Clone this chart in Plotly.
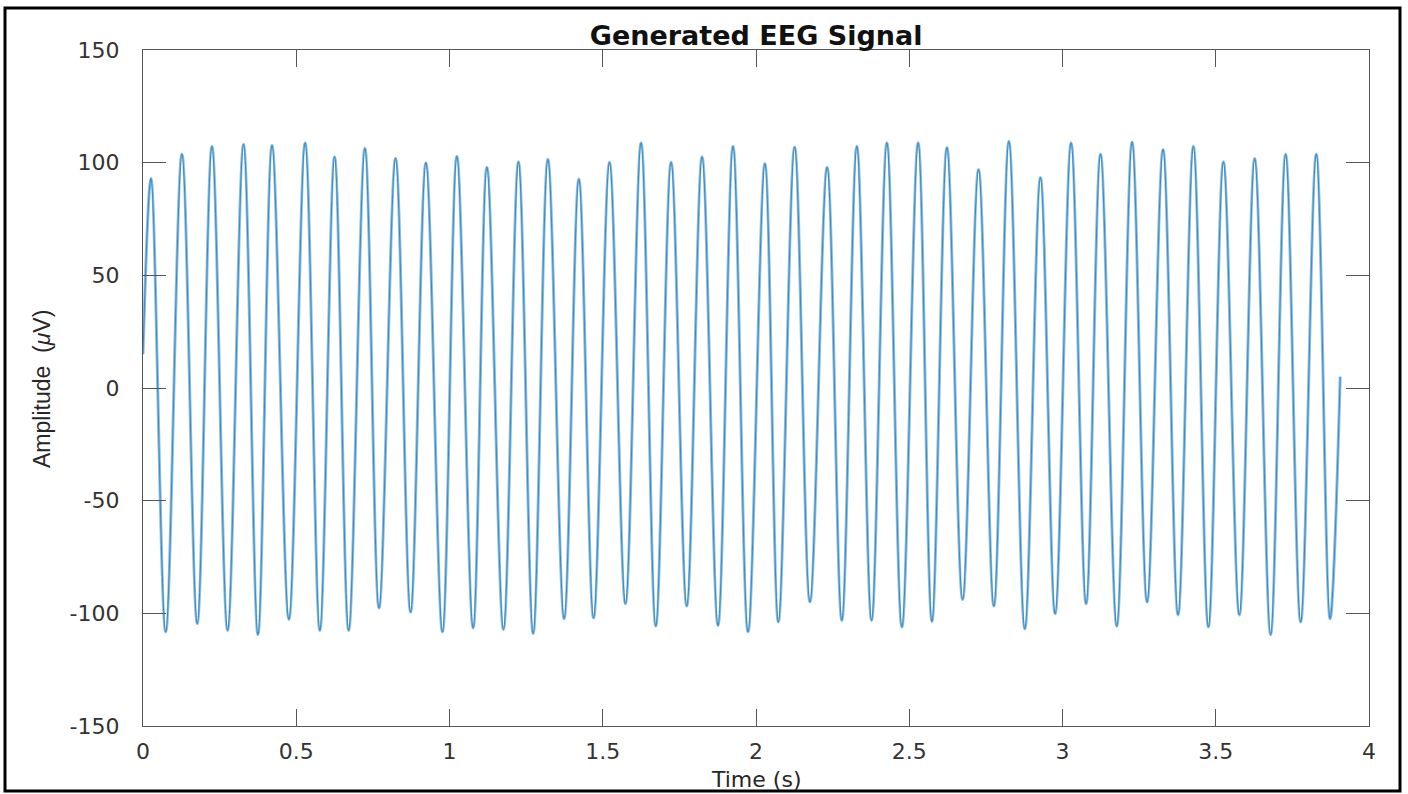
import plotly.graph_objects as go

# ---- data (time in s, amplitude in µV) ----
start_time = 0.0
start_value = 15.0
end_time = 3.906
end_value = 5.0

peak_times = [0.026, 0.127, 0.225, 0.328, 0.421, 0.529, 0.625, 0.724, 0.824, 0.923,
              1.024, 1.122, 1.225, 1.321, 1.422, 1.522, 1.625, 1.723, 1.824, 1.925,
              2.029, 2.126, 2.232, 2.329, 2.427, 2.529, 2.623, 2.726, 2.825, 2.928,
              3.028, 3.124, 3.227, 3.328, 3.427, 3.525, 3.627, 3.728, 3.828]
peak_values = [93.0, 103.8, 107.3, 108.2, 107.7, 108.8, 102.6, 106.4, 102.0, 100.0,
               102.9, 98.0, 100.4, 101.5, 92.7, 100.2, 108.8, 100.2, 102.6, 107.3,
               99.6, 107.0, 98.0, 107.3, 108.8, 108.8, 106.7, 97.0, 109.5, 93.4,
               108.8, 103.8, 109.2, 105.8, 107.3, 100.4, 101.9, 103.8, 103.8]

trough_times = [0.074, 0.177, 0.276, 0.375, 0.476, 0.577, 0.671, 0.770, 0.873, 0.977,
                1.077, 1.176, 1.273, 1.374, 1.470, 1.574, 1.673, 1.774, 1.876, 1.974,
                2.073, 2.176, 2.280, 2.377, 2.476, 2.574, 2.674, 2.776, 2.877, 2.976,
                3.077, 3.177, 3.276, 3.377, 3.476, 3.577, 3.679, 3.777, 3.873]
trough_values = [-108.3, -104.6, -107.6, -109.5, -102.7, -107.6, -107.6, -97.7, -99.5, -108.3,
                 -106.5, -107.2, -109.0, -102.4, -102.1, -95.8, -105.7, -96.8, -105.4, -108.3,
                 -103.9, -95.0, -103.2, -103.2, -106.1, -103.6, -93.9, -96.8, -106.9, -100.2,
                 -95.8, -105.7, -95.0, -100.7, -106.1, -100.7, -109.5, -103.9, -102.4]

x_ticks = [0, 0.5, 1, 1.5, 2, 2.5, 3, 3.5, 4]
y_ticks = [-150, -100, -50, 0, 50, 100, 150]

# ---- assemble the trace from the read extrema ----
pts = [(start_time, start_value)]
pts += list(zip(peak_times, peak_values))
pts += list(zip(trough_times, trough_values))
pts.append((end_time, end_value))
pts.sort(key=lambda p: p[0])
t = [p[0] for p in pts]
v = [p[1] for p in pts]

fig = go.Figure()
fig.add_trace(go.Scatter(x=t, y=v, mode="lines",
                         line=dict(color="#8cc0e2", width=3.0, shape="spline", smoothing=1),
                         hoverinfo="skip", showlegend=False))
fig.add_trace(go.Scatter(x=t, y=v, mode="lines",
                         line=dict(color="#3c88bd", width=1.0, shape="spline", smoothing=1),
                         showlegend=False))

axis_font = dict(family="DejaVu Sans", size=22, color="#333333")

W, H = 1408, 794
top, bottom = 50, 726
left, right = 143, 1369
pw, ph = right - left, bottom - top

fig.update_layout(
    width=W, height=H,
    margin=dict(l=left, r=W - right, t=top, b=H - bottom, autoexpand=False),
    paper_bgcolor="white", plot_bgcolor="white",
    title=dict(text="<b>Generated EEG Signal</b>", x=0.537, xanchor="center",
               y=1 - 36 / H, yanchor="middle", yref="container",
               font=dict(family="DejaVu Sans", size=27, color="#111111")),
    showlegend=False,
)
fig.update_xaxes(range=[0, 4], tickvals=x_ticks, ticktext=[f"{x:g}" for x in x_ticks],
                 automargin=False,
                 showgrid=False, zeroline=False, showline=True, linecolor="#555555",
                 linewidth=1.2, mirror="ticks", ticks="inside", ticklen=17, tickwidth=1.2,
                 tickcolor="#555555", tickfont=axis_font, ticklabelstandoff=5)
fig.update_yaxes(range=[-150, 150], tickvals=y_ticks, ticktext=[str(y) for y in y_ticks],
                 automargin=False,
                 showgrid=False, zeroline=False, showline=True, linecolor="#555555",
                 linewidth=1.2, mirror="ticks", ticks="inside", ticklen=23, tickwidth=1.2,
                 tickcolor="#555555", tickfont=axis_font, ticklabelstandoff=18)

# axis titles placed as annotations
fig.add_annotation(text="Time (s)", xref="paper", yref="paper",
                   x=0.5, y=(bottom - 779) / ph, xanchor="center", yanchor="middle",
                   showarrow=False,
                   font=dict(family="DejaVu Sans", size=22, color="#262626"))
fig.add_annotation(text="Amplitude  (<i>μ</i>V)", xref="paper", yref="paper",
                   x=(42 - left) / pw, y=(bottom - 389) / ph, xanchor="center", yanchor="middle",
                   textangle=-90, showarrow=False,
                   font=dict(family="Liberation Sans", size=23, color="#262626"))

# outer black frame of the picture
fig.add_shape(type="rect", xref="paper", yref="paper",
              x0=(5 - left) / pw, x1=(1400 - left) / pw,
              y0=(bottom - 791) / ph, y1=(bottom - 8) / ph,
              line=dict(color="black", width=3), fillcolor="rgba(0,0,0,0)", layer="above")

fig.write_html("out.html", config={"displayModeBar": False},
               post_script="document.body.style.margin='0';document.body.style.overflow='hidden';")
